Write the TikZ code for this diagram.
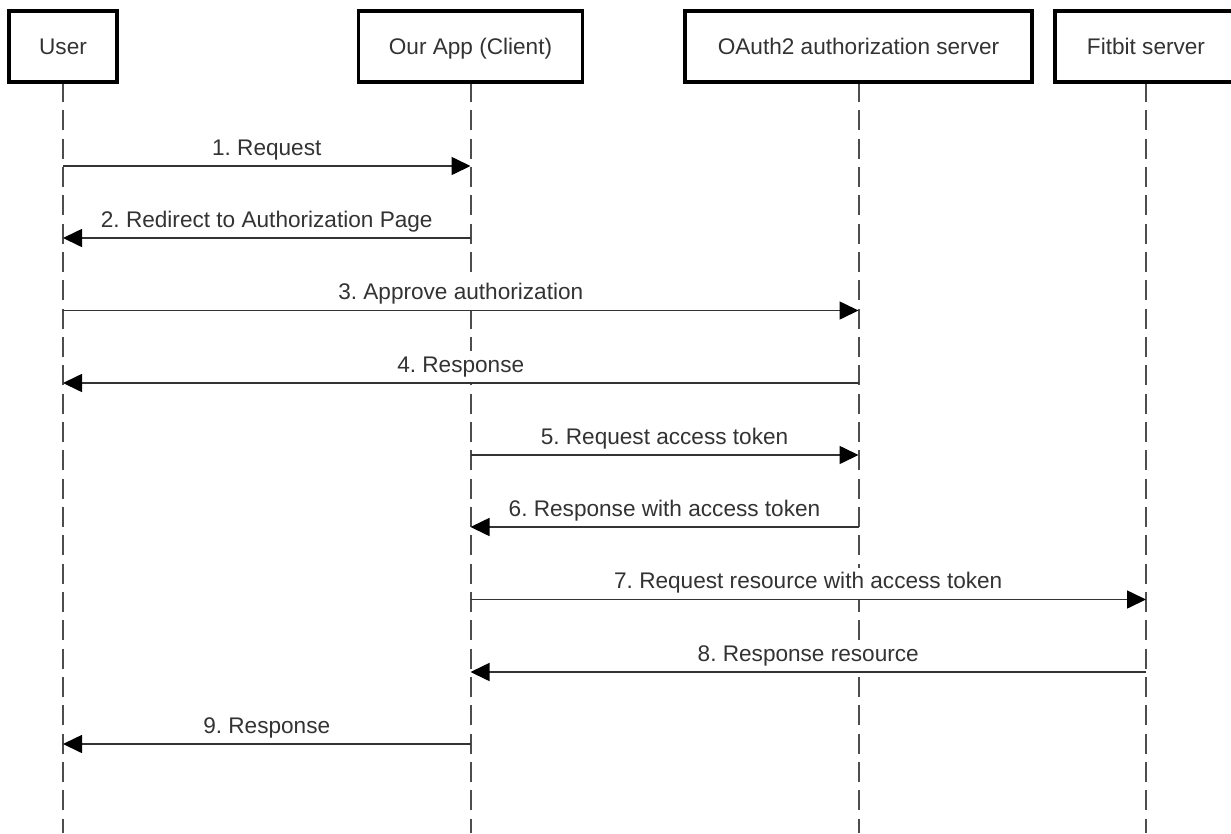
\documentclass[tikz,border=0pt]{standalone}
\usepackage{fontspec}
\setmainfont{Liberation Sans}
\usetikzlibrary{arrows.meta,calc}
\definecolor{ink}{HTML}{333333}
\definecolor{lifegray}{HTML}{4D4D4D}
\frenchspacing
\begin{document}
\begin{tikzpicture}[x=1pt,y=-1pt,
  actor/.style={draw=black,line width=3.2pt,fill=white,minimum height=71pt,
    inner sep=0pt,text=ink,font=\fontsize{22.6}{26}\selectfont,
    text height=16pt,text depth=0pt},
  lifeline/.style={draw=lifegray,line width=2pt,dash pattern=on 20pt off 8.33pt},
  msg/.style={draw=ink,line width=1.6pt,-{Triangle[length=19pt,width=18pt,black]}},
  msglabel/.style={anchor=base,text=ink,fill=white,inner xsep=2pt,inner ysep=0pt,
    text height=21pt,text depth=10pt,font=\fontsize{22.6}{26}\selectfont}]

  % canvas
  \useasboundingbox (0,0) rectangle (1231,833);
  \clip (0,0) rectangle (1231,833);
  \fill[white] (0,0) rectangle (1231,833);

  % participant positions
  \coordinate (pu) at (63,46.5);
  \coordinate (pa) at (470.5,46.5);
  \coordinate (po) at (858.5,46.5);
  \coordinate (pf) at (1146,46.5);

  % lifelines (drawn first so the boxes sit on top)
  \coordinate (ue) at (63,833);
  \coordinate (ae) at (470.5,833);
  \coordinate (oe) at (858.5,833);
  \coordinate (fe) at (1146,833);
  \draw[lifeline] (63,82) -- (ue);
  \draw[lifeline] (470.5,82) -- (ae);
  \draw[lifeline] (858.5,82) -- (oe);
  \draw[lifeline] (1146,82) -- (fe);

  % participants
  \node[actor,minimum width=108pt] (user) at (pu) {User};
  \node[actor,minimum width=224pt] (app) at (pa) {Our App (Client)};
  \node[actor,minimum width=347pt] (oauth) at (po) {OAuth2 authorization server};
  \node[actor,minimum width=182pt] (fitbit) at (pf) {Fitbit server};

  % messages: from, to, y, text
  \foreach \src/\dst/\yy/\txt in {
      user/app/166/{1. Request},
      app/user/238/{2. Redirect to Authorization Page},
      user/oauth/310.5/{3. Approve authorization},
      oauth/user/383/{4. Response},
      app/oauth/455/{5. Request access token},
      oauth/app/527/{6. Response with access token},
      app/fitbit/599.5/{7. Request resource with access token},
      fitbit/app/672/{8. Response resource},
      app/user/744/{9. Response}} {
    \coordinate (s) at (\src |- 0,\yy);
    \coordinate (d) at (\dst |- 0,\yy);
    \node[msglabel] at ($(s)!0.5!(d) + (0,-11)$) {\txt};
    \draw[msg] (s) -- (d);
  }
\end{tikzpicture}
\end{document}
